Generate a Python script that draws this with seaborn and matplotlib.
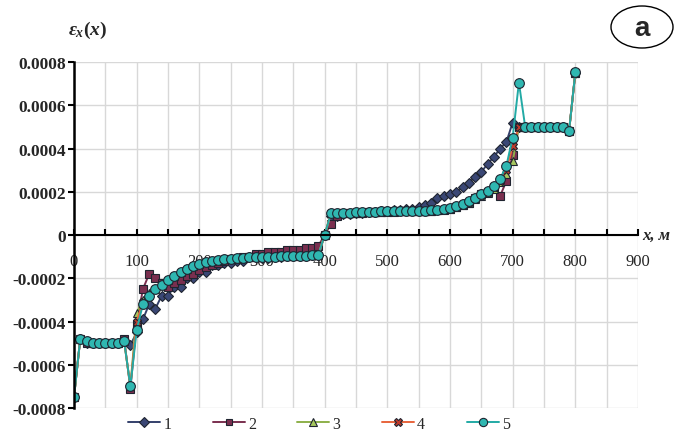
import matplotlib
matplotlib.use("Agg")
import matplotlib.pyplot as plt
from matplotlib.patches import Ellipse
from matplotlib.ticker import MultipleLocator, FixedLocator, FixedFormatter
import seaborn as sns

# x coordinate along the line, m (one point every 10 m)
x_m = list(range(0, 810, 10))

# strain eps_x(x) for the five cases
eps_1 = [
    -0.00075, -0.00048, -0.00050, -0.00050, -0.00050, -0.00050, -0.00050, -0.00050, -0.00049, -0.00051,
    -0.00045, -0.00039, -0.00032, -0.00034, -0.00028, -0.00028, -0.00024, -0.00024, -0.00020, -0.00020,
    -0.00017, -0.00017, -0.00014, -0.00014, -0.00013, -0.00013, -0.00012, -0.00012, -0.00010, -0.00010,
    -0.000105, -0.000105, -0.00010, -0.00010, -0.000098, -0.000098, -0.000096, -0.000096, -0.000094, -0.000094,
    0.0, 0.00009, 0.00009, 0.000095, 0.000095, 0.00010, 0.00010, 0.000105, 0.000105, 0.00011,
    0.00011, 0.000115, 0.000115, 0.00012, 0.00012, 0.00013, 0.00014, 0.00015, 0.00017, 0.00018,
    0.00019, 0.00020, 0.00022, 0.00024, 0.00027, 0.00029, 0.00033, 0.00036, 0.00040, 0.00043,
    0.00052, 0.00050, 0.00050, 0.00050, 0.00050, 0.00050, 0.00050, 0.00050, 0.00050, 0.00048,
    0.00075,
]
eps_2 = [
    -0.00075, -0.00048, -0.00050, -0.00050, -0.00050, -0.00050, -0.00050, -0.00050, -0.00048, -0.00071,
    -0.00041, -0.00025, -0.00018, -0.00020, -0.00022, -0.00024, -0.00022, -0.00021, -0.00019, -0.00018,
    -0.00016, -0.00015, -0.00014, -0.00013, -0.00012, -0.00011, -0.00011, -0.00010, -0.00010, -0.00009,
    -0.00009, -0.00008, -0.00008, -0.00008, -0.00007, -0.00007, -0.00007, -0.00006, -0.00006, -0.00005,
    0.0, 0.00005, 0.00009, 0.00010, 0.00010, 0.000102, 0.000104, 0.000105, 0.000106, 0.000107,
    0.000108, 0.000108, 0.000109, 0.000109, 0.00011, 0.00011, 0.000112, 0.000113, 0.000114, 0.000116,
    0.00012, 0.00013, 0.00014, 0.00015, 0.00017, 0.00019, 0.00020, 0.00022, 0.00018, 0.00025,
    0.00037, 0.00050, 0.00050, 0.00050, 0.00050, 0.00050, 0.00050, 0.00050, 0.00050, 0.00048,
    0.00075,
]
eps_3 = [
    -0.00075, -0.00048, -0.00049, -0.00050, -0.00050, -0.00050, -0.00050, -0.00050, -0.00049, -0.00070,
    -0.00036, -0.00030, -0.00027, -0.00025, -0.00023, -0.00021, -0.00019, -0.00017, -0.000156, -0.000144,
    -0.000134, -0.000126, -0.00012, -0.000115, -0.000111, -0.000108, -0.000106, -0.000104, -0.000103, -0.000102,
    -0.000101, -0.00010, -0.000099, -0.000098, -0.000097, -0.000096, -0.000095, -0.000094, -0.000093, -0.000091,
    0.0, 0.00010, 0.000101, 0.000102, 0.000103, 0.000104, 0.000105, 0.000106, 0.000107, 0.000108,
    0.000109, 0.000109, 0.00011, 0.00011, 0.000111, 0.000111, 0.000112, 0.000113, 0.000115, 0.000118,
    0.000122, 0.00013, 0.000138, 0.00015, 0.000165, 0.00018, 0.000195, 0.000215, 0.000245, 0.00028,
    0.00034, 0.00050, 0.00050, 0.00050, 0.00050, 0.00050, 0.00050, 0.00050, 0.00050, 0.00048,
    0.00075,
]
eps_4 = [
    -0.00075, -0.00048, -0.00049, -0.00050, -0.00050, -0.00050, -0.00050, -0.00050, -0.00049, -0.00070,
    -0.00040, -0.00031, -0.00028, -0.00025, -0.00023, -0.00021, -0.00019, -0.00017, -0.000157, -0.000145,
    -0.000135, -0.000127, -0.00012, -0.000116, -0.000112, -0.000109, -0.000107, -0.000105, -0.000104, -0.000103,
    -0.000102, -0.000101, -0.00010, -0.000099, -0.000098, -0.000097, -0.000096, -0.000095, -0.000094, -0.000092,
    0.0, 0.00010, 0.000101, 0.000102, 0.000103, 0.000104, 0.000105, 0.000106, 0.000107, 0.000108,
    0.000109, 0.000109, 0.00011, 0.00011, 0.000111, 0.000111, 0.000112, 0.000113, 0.000116, 0.000119,
    0.000123, 0.000131, 0.00014, 0.000153, 0.000168, 0.000184, 0.0002, 0.00022, 0.00025, 0.00030,
    0.00041, 0.00050, 0.00050, 0.00050, 0.00050, 0.00050, 0.00050, 0.00050, 0.00050, 0.00048,
    0.00075,
]
eps_5 = [
    -0.00075, -0.00048, -0.00049, -0.00050, -0.00050, -0.00050, -0.00050, -0.00050, -0.00049, -0.00070,
    -0.00044, -0.00032, -0.00028, -0.00025, -0.00023, -0.00021, -0.00019, -0.000172, -0.000157, -0.000145,
    -0.000135, -0.000127, -0.000121, -0.000116, -0.000112, -0.000109, -0.000107, -0.000105, -0.000104, -0.000103,
    -0.000102, -0.000101, -0.00010, -0.000099, -0.000098, -0.000097, -0.000096, -0.000095, -0.000094, -0.000092,
    0.0, 0.00010, 0.000102, 0.000103, 0.000104, 0.000105, 0.000106, 0.000107, 0.000108, 0.000109,
    0.00011, 0.00011, 0.000111, 0.000111, 0.000112, 0.000112, 0.000113, 0.000114, 0.000117, 0.00012,
    0.000125, 0.000134, 0.000143, 0.000157, 0.000173, 0.000189, 0.000205, 0.000228, 0.00026, 0.00032,
    0.00045, 0.000705, 0.00050, 0.00050, 0.00050, 0.00050, 0.00050, 0.00050, 0.000498, 0.00048,
    0.000752,
]

series_names = ["1", "2", "3", "4", "5"]
series_vals = [eps_1, eps_2, eps_3, eps_4, eps_5]

x_ticks = [0, 100, 200, 300, 400, 500, 600, 700, 800, 900]
x_tick_labels = ["0", "100", "200", "300", "400", "500", "600", "700", "800", "900"]
y_ticks = [-0.0008, -0.0006, -0.0004, -0.0002, 0, 0.0002, 0.0004, 0.0006, 0.0008]
y_tick_labels = ["-0.0008", "-0.0006", "-0.0004", "-0.0002", "0", "0.0002", "0.0004", "0.0006", "0.0008"]

# styles
line_colors = ["#34406b", "#7a2f4f", "#8db04a", "#e8643c", "#23aaa5"]
face_colors = ["#3a4775", "#7a2f4f", "#a6c75e", "#c0392b", "#2fb7b1"]
markers = ["D", "s", "^", "X", "o"]
msizes = [5.5, 5.5, 6, 6, 7]

sns.set_theme(style="white")
plt.rcParams["font.family"] = ["Liberation Serif", "DejaVu Serif"]
plt.rcParams["mathtext.fontset"] = "custom"
plt.rcParams["mathtext.it"] = "Liberation Serif:bold:italic"
plt.rcParams["mathtext.rm"] = "Liberation Serif:bold"

fig = plt.figure(figsize=(6.8, 4.39), dpi=100)
ax = fig.add_axes([0.1088, 0.0683, 0.8294, 0.7882])

for name, vals, lc, fc, mk, ms in zip(series_names, series_vals, line_colors,
                                      face_colors, markers, msizes):
    sns.lineplot(x=x_m, y=vals, ax=ax, color=lc, marker=mk, markersize=ms,
                 markerfacecolor=fc, markeredgecolor="#1f2430",
                 markeredgewidth=0.8, linewidth=1.4, label=name)

ax.set_xlim(0, 900)
ax.set_ylim(-0.0008, 0.0008)

ax.xaxis.set_major_locator(FixedLocator(x_ticks))
ax.xaxis.set_major_formatter(FixedFormatter(x_tick_labels))
ax.xaxis.set_minor_locator(MultipleLocator(50))
ax.yaxis.set_major_locator(FixedLocator(y_ticks))
ax.yaxis.set_major_formatter(FixedFormatter(y_tick_labels))

ax.grid(True, which="both", axis="x", color="#d8d8d8", linewidth=1.0)
ax.grid(True, which="major", axis="y", color="#d8d8d8", linewidth=1.0)
ax.set_axisbelow(True)

for s in ["top", "right"]:
    ax.spines[s].set_visible(False)
ax.spines["bottom"].set_position(("data", 0))
ax.spines["bottom"].set_color("black")
ax.spines["bottom"].set_linewidth(1.5)
ax.spines["left"].set_color("black")
ax.spines["left"].set_linewidth(1.8)

ax.tick_params(axis="x", which="both", direction="in", length=4.5, width=1.5,
               color="black", bottom=True, pad=13, labelsize=12)
ax.tick_params(axis="y", which="major", direction="out", length=4, width=1.5,
               color="black", left=True, labelsize=12.5, pad=2)
for lab in ax.get_yticklabels():
    lab.set_fontweight("bold")

ax.set_xlabel("")
ax.set_ylabel("")

# axis captions
fig.text(88 / 680, 1 - 30 / 439, r"$\varepsilon_x(x)$", ha="center", va="center",
         fontsize=14)
ax.text(1.008, 0, "x, м", transform=ax.get_yaxis_transform(), ha="left",
        va="center", fontsize=12, fontweight="bold", fontstyle="italic")

# panel label
fig.patches.append(Ellipse((642 / 680, 1 - 28 / 439), 62 / 680, 42 / 439,
                           transform=fig.transFigure, facecolor="white",
                           edgecolor="black", linewidth=1.0))
fig.text(642 / 680, 1 - 29 / 439, "a", ha="center", va="center", fontsize=20,
         family="Liberation Sans", fontweight="bold")

handles, labels = ax.get_legend_handles_labels()
ax.get_legend().remove()
fig.legend(handles, labels, loc="center", bbox_to_anchor=(0.469, 0.032), ncol=5,
           frameon=False, fontsize=11.5, handlelength=2.0, handletextpad=0.2,
           columnspacing=2.6, markerscale=0.85)

fig.savefig("out.png", dpi=100)
